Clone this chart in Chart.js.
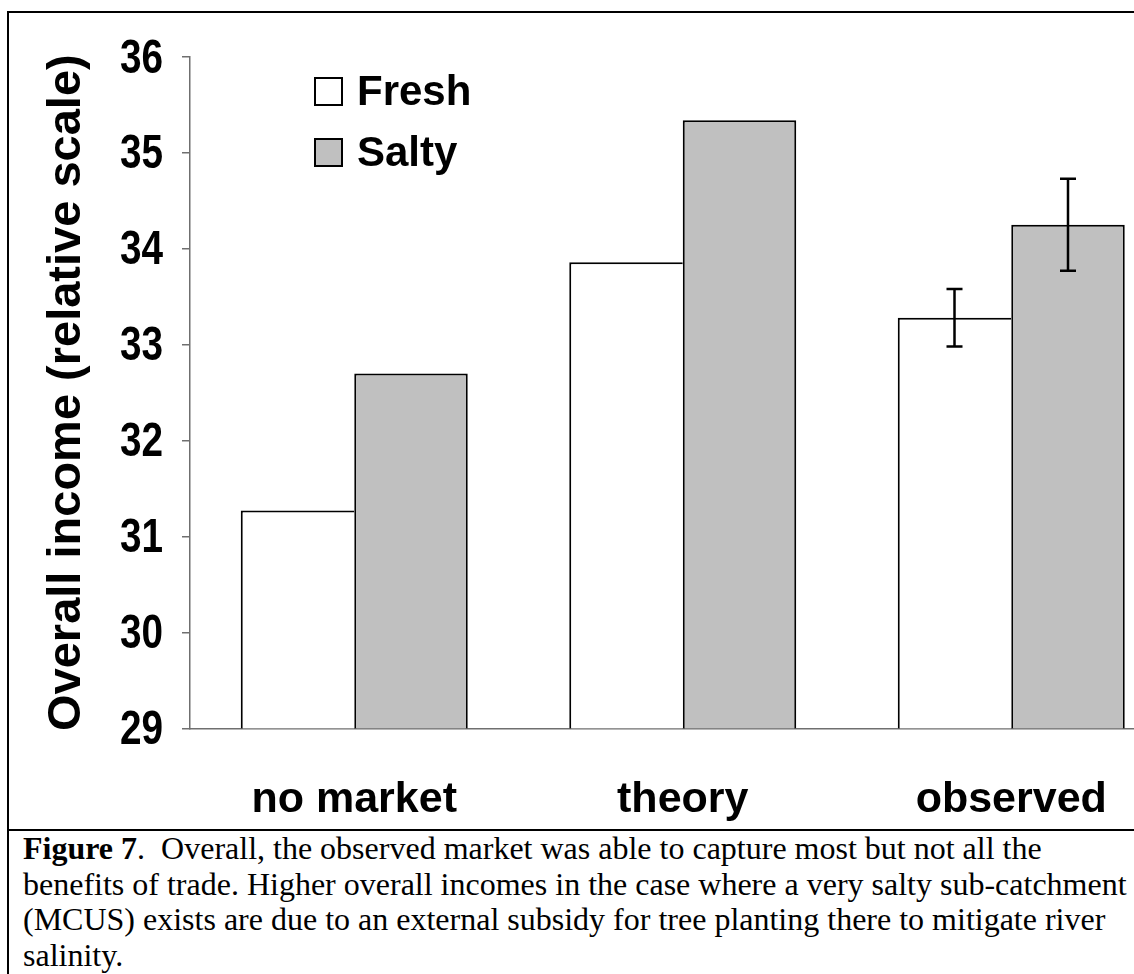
<!DOCTYPE html>
<html>
<head>
<meta charset="utf-8">
<script src="https://cdn.jsdelivr.net/npm/chart.js@4.4.1/dist/chart.umd.min.js"></script>
<style>
  html, body { margin: 0; padding: 0; background: #fff; overflow: hidden; width: 1134px; height: 974px; }
  #wrap { position: relative; width: 1134px; height: 974px; overflow: hidden; }
  #c { position: absolute; left: 0; top: 0; }
  .frame { position: absolute; left: 7px; top: 11px; width: 1300px; height: 1200px;
           border-top: 2px solid #000; border-left: 2px solid #000; }
  .sep { position: absolute; left: 7px; top: 829px; width: 1300px; height: 2px; background: #000; }
  #caption { position: absolute; left: 23px; top: 831px; width: 1200px;
             font-family: "Liberation Serif", "Times New Roman", serif; font-size: 32px;
             line-height: 35.5px; color: #000; white-space: nowrap; }
</style>
</head>
<body>
<div id="wrap">
  <div class="frame"></div>
  <div class="sep"></div>
  <canvas id="c" width="1200" height="830"></canvas>
  <div id="caption"><b>Figure 7</b>.&nbsp; Overall, the observed market was able to capture most but not all the<br>benefits of trade. Higher overall incomes in the case where a very salty sub-catchment<br>(MCUS) exists are due to an external subsidy for tree planting there to mitigate river<br>salinity.</div>
</div>
<script>
// data
const categories = ["no market", "theory", "observed"];
const fresh = [31.27, 33.86, 33.28];
const salty = [32.70, 35.34, 34.25];
const freshErr = [0, 0, 0.30];
const saltyErr = [0, 0, 0.48];
const yTicks = [29, 30, 31, 32, 33, 34, 35, 36];

const axisGray = "#6f6f6f";

// error bars (only where an error is given)
const errorBars = {
  id: "errorBars",
  afterDatasetsDraw(chart) {
    const ctx = chart.ctx;
    const y = chart.scales.y;
    const errs = [freshErr, saltyErr];
    ctx.save();
    ctx.strokeStyle = "#000";
    ctx.lineWidth = 2.5;
    chart.data.datasets.forEach((ds, i) => {
      const meta = chart.getDatasetMeta(i);
      meta.data.forEach((bar, j) => {
        const e = errs[i][j];
        if (!e) return;
        const v = ds.data[j];
        const top = y.getPixelForValue(v + e);
        const bot = y.getPixelForValue(v - e);
        const x = bar.x;
        ctx.beginPath();
        ctx.moveTo(x, top); ctx.lineTo(x, bot);
        ctx.moveTo(x - 8, top); ctx.lineTo(x + 8, top);
        ctx.moveTo(x - 8, bot); ctx.lineTo(x + 8, bot);
        ctx.stroke();
      });
    });
    ctx.restore();
  }
};

// narrow bold y tick labels (no narrow font installed, so squeeze the drawing)
const narrowTicks = {
  id: "narrowTicks",
  afterDraw(chart) {
    const ctx = chart.ctx;
    const y = chart.scales.y;
    ctx.save();
    ctx.font = "bold 49px 'Liberation Sans', Arial, sans-serif";
    ctx.fillStyle = "#000";
    ctx.textAlign = "right";
    ctx.textBaseline = "middle";
    y.ticks.forEach(t => {
      const py = y.getPixelForValue(t.value);
      ctx.save();
      ctx.translate(163, py + 2);
      ctx.scale(0.79, 1);
      ctx.fillText(String(t.value), 0, 0);
      ctx.restore();
    });
    ctx.restore();
  }
};

// legend drawn inside the plot, top-left
const innerLegend = {
  id: "innerLegend",
  afterDraw(chart) {
    const ctx = chart.ctx;
    ctx.save();
    ctx.font = "bold 42px 'Liberation Sans', Arial, sans-serif";
    ctx.textBaseline = "middle";
    ctx.textAlign = "left";
    chart.data.datasets.forEach((ds, i) => {
      const bx = 315, by = 78 + i * 61;
      ctx.fillStyle = ds.backgroundColor;
      ctx.fillRect(bx, by, 27, 27);
      ctx.strokeStyle = "#000";
      ctx.lineWidth = 2;
      ctx.strokeRect(bx, by, 27, 27);
      ctx.fillStyle = "#000";
      ctx.fillText(ds.label, 357, by + 15);
    });
    ctx.restore();
  }
};

const chart = new Chart(document.getElementById("c"), {
  type: "bar",
  data: {
    labels: categories,
    datasets: [
      {
        label: "Fresh",
        data: fresh,
        backgroundColor: "#ffffff",
        borderColor: "#000",
        borderWidth: { top: 2, left: 2, right: 0, bottom: 0 },
        borderSkipped: false
      },
      {
        label: "Salty",
        data: salty,
        backgroundColor: "#c0c0c0",
        borderColor: "#000",
        borderWidth: { top: 2, left: 2, right: 2, bottom: 0 },
        borderSkipped: false
      }
    ]
  },
  options: {
    responsive: false,
    animation: false,
    devicePixelRatio: 1,
    categoryPercentage: 0.691,
    barPercentage: 1,
    layout: { padding: { top: 57, right: 24.5, bottom: 0, left: 0 } },
    plugins: { legend: { display: false }, tooltip: { enabled: false } },
    scales: {
      x: {
        grid: { display: false },
        border: { display: true, color: axisGray, width: 1.5 },
        ticks: {
          color: "#000",
          padding: 38,
          font: { family: "'Liberation Sans', Arial, sans-serif", size: 43, weight: "bold" }
        },
        afterFit(s) { s.height = 101.7; }
      },
      y: {
        min: 29,
        max: 36,
        afterBuildTicks(s) { s.ticks = yTicks.map(v => ({ value: v })); },
        grid: { display: true, drawOnChartArea: false, drawTicks: true, tickLength: 8, color: axisGray, lineWidth: 1.5 },
        border: { display: true, color: axisGray, width: 1.5 },
        ticks: {
          color: "rgba(0,0,0,0)",
          padding: 19,
          font: { family: "'Liberation Sans', Arial, sans-serif", size: 49, weight: "bold" }
        },
        title: {
          display: true,
          text: "Overall income (relative scale)",
          color: "#000",
          padding: { top: 44, bottom: 0 },
          font: { family: "'Liberation Sans', Arial, sans-serif", size: 47, weight: "bold", lineHeight: 1 }
        },
        afterFit(s) { s.width = 190; }
      }
    }
  },
  plugins: [errorBars, narrowTicks, innerLegend]
});
</script>
</body>
</html>
